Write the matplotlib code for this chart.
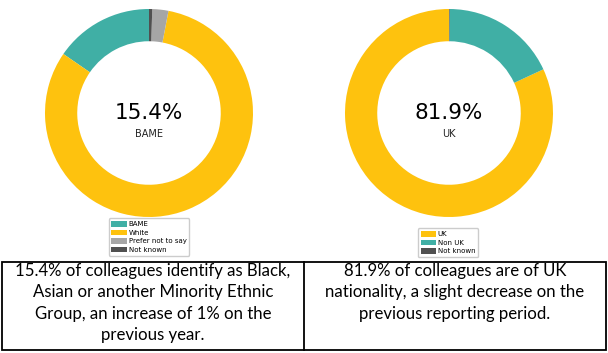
import matplotlib
matplotlib.use("Agg")
import matplotlib.pyplot as plt
from matplotlib.patches import Rectangle

# data
eth_labels = ["BAME", "White", "Prefer not to say", "Not known"]
eth_values = [15.4, 81.6, 2.5, 0.5]
eth_colors = ["#40afa5", "#fec20e", "#a6a6a6", "#505050"]

nat_labels = ["UK", "Non UK", "Not known"]
nat_values = [81.9, 18.0, 0.1]
nat_colors = ["#fec20e", "#40afa5", "#505050"]

captions = [
    "15.4% of colleagues identify as Black,\nAsian or another Minority Ethnic\nGroup, an increase of 1% on the\nprevious year.",
    "81.9% of colleagues are of UK\nnationality, a slight decrease on the\nprevious reporting period.",
]

W, H = 608, 353
fig = plt.figure(figsize=(W / 100, H / 100), dpi=100)


def px_axes(x0, y0, x1, y1):
    return fig.add_axes([x0 / W, 1 - y1 / H, (x1 - x0) / W, (y1 - y0) / H])


def donut(ax, values, colors, big, small):
    wedges, _ = ax.pie(values, colors=colors, startangle=90, counterclock=True,
                       wedgeprops=dict(width=0.31, linewidth=0))
    ax.set_xlim(-1, 1)
    ax.set_ylim(-1, 1)
    ax.text(0, 0.0, big, ha="center", va="center", fontsize=15.5, color="black")
    ax.text(0, -0.2, small, ha="center", va="center", fontsize=7, color="#222222")
    return wedges


ax1 = px_axes(45, 9, 253, 217)
w1 = donut(ax1, eth_values, eth_colors, "15.4%", "BAME")
ax2 = px_axes(345, 9, 553, 217)
w2 = donut(ax2, nat_values, nat_colors, "81.9%", "UK")

leg_kw = dict(loc="upper center", fontsize=5, handlelength=2.2, handleheight=0.8,
              labelspacing=0.35, handletextpad=0.3, borderpad=0.4,
              frameon=True, edgecolor="#cccccc", framealpha=1)
fig.legend(w1, eth_labels, bbox_to_anchor=(149 / W, 1 - 215 / H), **leg_kw)
fig.legend(w2, nat_labels, bbox_to_anchor=(448 / W, 1 - 225 / H), **leg_kw)

# caption table
tab = fig.add_axes([0, 0, 1, 1], zorder=5)
tab.set_xlim(0, W)
tab.set_ylim(H, 0)
tab.axis("off")
tab.add_patch(Rectangle((2, 262), 604, 88, fill=False, edgecolor="black", linewidth=1.3))
tab.plot([304, 304], [262, 350], color="black", linewidth=1.3)
tab.text(153, 263, captions[0], ha="center", va="top", fontsize=12.1,
         family="Lato", linespacing=1.42)
tab.text(455, 263, captions[1], ha="center", va="top", fontsize=12.1,
         family="Lato", linespacing=1.42)

fig.savefig("out.png", dpi=100)
